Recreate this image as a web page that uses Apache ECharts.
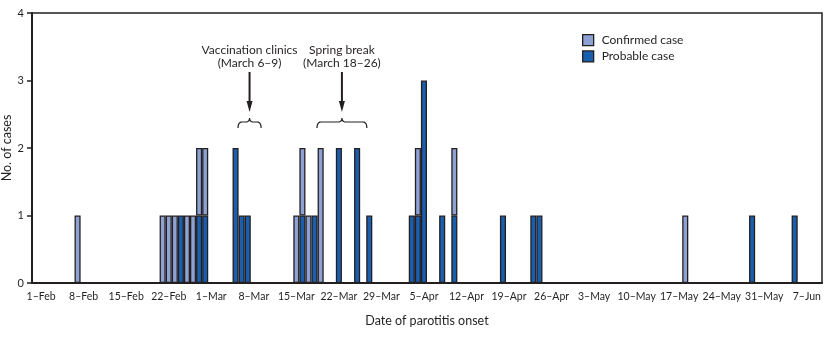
<!DOCTYPE html>
<html>
<head>
<meta charset="utf-8">
<script src="https://cdn.jsdelivr.net/npm/echarts@6/dist/echarts.min.js"></script>
<style>
  html, body { margin: 0; padding: 0; background: #fff; }
  #chart { width: 831px; height: 337px; }
</style>
</head>
<body>
<div id="chart"></div>
<script>
// Axis covers 31 Jan through 9 Jun, one category per day
const monthNames = ['Jan', 'Feb', 'Mar', 'Apr', 'May', 'Jun'];
const daysInMonth = [31, 28, 31, 30, 31, 30];
const firstDay = '31–Jan';
const lastDay = '9–Jun';
// Weekly tick labels shown along the date axis
const tickLabels = ['1–Feb', '8–Feb', '15–Feb', '22–Feb', '1–Mar', '8–Mar', '15–Mar', '22–Mar',
  '29–Mar', '5–Apr', '12–Apr', '19–Apr', '26–Apr', '3–May', '10–May', '17–May', '24–May',
  '31–May', '7–Jun'];
const yTicks = [0, 1, 2, 3, 4];

// Cases by date of parotitis onset
const confirmedCases = [
  ['7–Feb', 1], ['21–Feb', 1], ['22–Feb', 1], ['23–Feb', 1], ['25–Feb', 1], ['26–Feb', 1],
  ['27–Feb', 1], ['28–Feb', 1], ['15–Mar', 1], ['16–Mar', 1], ['17–Mar', 1], ['19–Mar', 2],
  ['4–Apr', 1], ['10–Apr', 1], ['18–May', 1]
];
const probableCases = [
  ['24–Feb', 1], ['27–Feb', 1], ['28–Feb', 1], ['5–Mar', 2], ['6–Mar', 1], ['7–Mar', 1],
  ['16–Mar', 1], ['18–Mar', 1], ['22–Mar', 2], ['25–Mar', 2], ['27–Mar', 1], ['3–Apr', 1],
  ['4–Apr', 1], ['5–Apr', 3], ['8–Apr', 1], ['10–Apr', 1], ['18–Apr', 1], ['23–Apr', 1],
  ['24–Apr', 1], ['29–May', 1], ['5–Jun', 1]
];

// Event annotations: label lines and the day span the brace covers
const events = [
  { lines: ['Vaccination clinics', '(March 6–9)'], from: '6–Mar', to: '9–Mar', padL: -0.6, padR: 0.2, arrowAt: 0.5 },
  { lines: ['Spring break', '(March 18–26)'], from: '18–Mar', to: '26–Mar', padL: 0.4, padR: 0.6, arrowAt: 0.5 }
];

// build the daily categories
const categories = [];
{
  let [d, mName] = firstDay.split('–');
  let day = +d, m = monthNames.indexOf(mName);
  while (true) {
    const label = day + '–' + monthNames[m];
    categories.push(label);
    if (label === lastDay) break;
    day++;
    if (day > daysInMonth[m]) { day = 1; m++; }
  }
}
function toSeries(pairs) {
  const arr = categories.map(() => null);
  pairs.forEach(([day, n]) => { arr[categories.indexOf(day)] = n; });
  return arr;
}

const INK = '#231f20';
const LIGHT = '#8ea1d3';
const DARK = '#1a5eae';
const FONT = 'Lato';

const chart = echarts.init(document.getElementById('chart'), null, { renderer: 'canvas' });
const isTick = (idx) => tickLabels.indexOf(categories[idx]) >= 0;

chart.setOption({
  animation: false,
  textStyle: { fontFamily: FONT },
  grid: {
    left: 32, right: 9, top: 13, bottom: 54,
    containLabel: false, outerBoundsMode: 'none',
    show: true, borderColor: INK, borderWidth: 1.5, backgroundColor: 'transparent'
  },
  legend: {
    left: 577, top: 29, orient: 'vertical', itemWidth: 11, itemHeight: 11, itemGap: 4,
    icon: 'rect',
    itemStyle: { borderColor: INK, borderWidth: 1.3 },
    textStyle: { fontFamily: FONT, fontSize: 12, color: INK, padding: [1, 0, 0, 3] },
    data: ['Confirmed case', 'Probable case']
  },
  xAxis: {
    type: 'category',
    data: categories,
    name: 'Date of parotitis onset',
    nameLocation: 'middle', nameGap: 31, nameMoveOverlap: false,
    nameTextStyle: { fontFamily: FONT, fontSize: 12.5, color: INK },
    axisLine: { lineStyle: { color: INK, width: 2 } },
    axisTick: { interval: isTick, alignWithLabel: true, length: 5, lineStyle: { color: INK, width: 1.5 } },
    axisLabel: { interval: isTick, fontFamily: FONT, fontSize: 10.5, color: INK, margin: 8 },
    splitLine: { show: false }
  },
  yAxis: {
    type: 'value',
    min: yTicks[0], max: yTicks[yTicks.length - 1], interval: 1,
    name: 'No. of cases', nameLocation: 'middle', nameGap: 19, nameMoveOverlap: false,
    nameTextStyle: { fontFamily: FONT, fontSize: 12.5, color: INK },
    axisLine: { show: true, lineStyle: { color: INK, width: 2 } },
    axisTick: { show: true, length: 5, lineStyle: { color: INK, width: 1.5 } },
    axisLabel: { fontFamily: FONT, fontSize: 11, color: INK, margin: 8 },
    splitLine: { show: false }
  },
  series: [
    {
      name: 'Probable case', type: 'bar', stack: 'cases', barCategoryGap: '0%', barGap: '0%',
      data: toSeries(probableCases),
      itemStyle: { color: DARK, borderColor: INK, borderWidth: 1.3 }
    },
    {
      name: 'Confirmed case', type: 'bar', stack: 'cases', barCategoryGap: '0%', barGap: '0%',
      data: toSeries(confirmedCases),
      itemStyle: { color: LIGHT, borderColor: INK, borderWidth: 1.3 }
    }
  ]
});

// annotations positioned from the axis scale
function dayX(day, offset) {
  const i = categories.indexOf(day);
  const a = chart.convertToPixel({ xAxisIndex: 0 }, i);
  const b = chart.convertToPixel({ xAxisIndex: 0 }, i + 1);
  return a + (b - a) * offset;
}
function quad(p0, p1, p2, n) {
  const pts = [];
  for (let k = 0; k <= n; k++) {
    const t = k / n, u = 1 - t;
    pts.push([u * u * p0[0] + 2 * u * t * p1[0] + t * t * p2[0], u * u * p0[1] + 2 * u * t * p1[1] + t * t * p2[1]]);
  }
  return pts;
}
const graphics = [];
events.forEach((ev) => {
  const x1 = dayX(ev.from, ev.padL);
  const x2 = dayX(ev.to, ev.padR);
  const xm = x1 + (x2 - x1) * ev.arrowAt;
  const top = 118, bot = 128, mid = 122;
  const r = 4;
  const pts = [].concat(
    quad([x1, bot], [x1, mid], [x1 + r, mid], 6),
    quad([xm - r, mid], [xm, mid], [xm, top], 6),
    quad([xm, top], [xm, mid], [xm + r, mid], 6),
    quad([x2 - r, mid], [x2, mid], [x2, bot], 6)
  );
  graphics.push({
    type: 'polyline', silent: true,
    shape: { points: pts },
    style: { fill: null, stroke: INK, lineWidth: 1.2 }
  });
  graphics.push({
    type: 'line', silent: true,
    shape: { x1: xm, y1: 72, x2: xm, y2: 104 },
    style: { stroke: INK, lineWidth: 2 }
  });
  graphics.push({
    type: 'polygon', silent: true,
    shape: { points: [[xm - 3, 101], [xm + 3, 101], [xm, 112]] },
    style: { fill: INK }
  });
  graphics.push({
    type: 'text', silent: true,
    x: xm, y: 57,
    style: {
      text: ev.lines.join('\n'), font: '12px ' + FONT, fill: INK,
      align: 'center', verticalAlign: 'middle', lineHeight: 13
    }
  });
});
chart.setOption({ graphic: graphics });
</script>
</body>
</html>
